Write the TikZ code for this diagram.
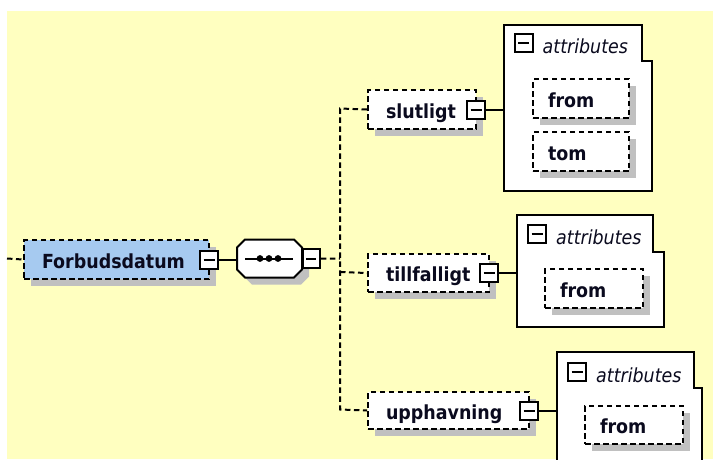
\documentclass[tikz,border=0pt]{standalone}
\usepackage{fontspec}
\setmainfont[FakeStretch=0.9]{DejaVu Sans}
\usetikzlibrary{shadows}
\definecolor{bgyellow}{RGB}{255,255,192}
\definecolor{elemblue}{RGB}{166,202,240}
\definecolor{shadowc}{RGB}{192,192,192}
\definecolor{textc}{RGB}{10,10,30}
\tikzset{
  conn/.style={line width=2pt, dash pattern=on 5.5pt off 3.5pt},
  link/.style={line width=2pt},
  elem/.style={draw, line width=2pt, dash pattern=on 5.5pt off 3.5pt, fill=white,
    anchor=north west, inner xsep=0pt, inner ysep=0pt, align=left,
    text height=17pt, text depth=0pt,
    font=\bfseries\fontsize{19.4pt}{23pt}\selectfont, text=textc,
    drop shadow={fill=shadowc, opacity=1, shadow xshift=7pt, shadow yshift=-7pt}},
  minusbtn/.style={draw, line width=2pt, fill=white, minimum width=18pt, minimum height=18pt,
    inner sep=0pt,
    path picture={\draw[line width=2pt] ([xshift=3.5pt]path picture bounding box.west) -- ([xshift=-3.5pt]path picture bounding box.east);}},
  region/.style={anchor=north west, inner sep=0pt, draw=none},
  attrbox/.style={draw, line width=2pt, fill=white},
  attrlabel/.style={font=\itshape\fontsize{19.4pt}{23pt}\selectfont, text=textc, inner sep=0pt, anchor=base west}
}
\begin{document}
\begin{tikzpicture}[x=1pt,y=-1pt]
\path[use as bounding box] (0,0) rectangle (713,459);
\clip (0,0) rectangle (713,459);
\fill[bgyellow] (7,11) rectangle (713,459);

% root element
\node[elem, fill=elemblue, minimum width=185pt, text width=185pt, minimum height=39pt] (forb) at (23,239) {\hspace*{18pt}Forbudsdatum};
\node[minusbtn] (fminus) at ([xshift=-1pt]forb.east) {};

% sequence compositor
\node[region, minimum width=65pt, minimum height=38pt] (seq) at (237,239.5) {};
\begin{scope}[shift={(7,7)}]
  \fill[shadowc] (245,239.5) -- (294,239.5) -- (302,247.5) -- (302,269.5) -- (294,277.5) -- (245,277.5) -- (237,269.5) -- (237,247.5) -- cycle;
\end{scope}
\draw[link, fill=white] (245,239.5) -- (294,239.5) -- (302,247.5) -- (302,269.5) -- (294,277.5) -- (245,277.5) -- (237,269.5) -- (237,247.5) -- cycle;
\draw[link] (245,258.5) -- (293,258.5);
\fill (260,258.5) circle (3.4pt) (269,258.5) circle (3.4pt) (278,258.5) circle (3.4pt);
\node[minusbtn, minimum width=17pt, minimum height=19pt] (qminus) at ([xshift=9pt]seq.east) {};

% child elements
\node[elem, minimum width=108pt, text width=108pt, minimum height=39pt] (slut) at (367,89) {\hspace*{18pt}slutligt};
\node[minusbtn] (sminus) at ([xshift=-1pt]slut.east) {};
\node[elem, minimum width=121pt, text width=121pt, minimum height=38pt] (till) at (367,253) {\hspace*{18pt}tillfalligt};
\node[minusbtn] (tminus) at ([xshift=-1pt]till.east) {};
\node[elem, minimum width=161pt, text width=161pt, minimum height=37pt] (upph) at (367,391) {\hspace*{18pt}upphavning};
\node[minusbtn] (uminus) at ([xshift=-1pt]upph.east) {};

% connectors
\coordinate (lstart) at (7,258.5);
\coordinate (jseq) at (340,258.5);
\coordinate (jtill) at (340,272);
\coordinate (jtop) at (340,108.5);
\coordinate (jbot) at (340,409.5);
\draw[conn] (lstart) -- (forb.west);
\draw[link] (fminus.east) -- (fminus.east -| seq.west);
\draw[conn] (qminus.east) -- (jseq);
\draw[conn] (slut.west) -- (jtop) -- (jbot) -- (upph.west);
\draw[conn] (jtill) -- (till.west);

% attributes of slutligt
\node[region, minimum width=148pt, minimum height=166pt] (a1) at (504,25) {};
\draw[link] (sminus.east) -- (sminus.east -| a1.west);
\draw[attrbox] (a1.north west) -- ([xshift=-10pt]a1.north east) |- ([yshift=-36pt]a1.north east) -- (a1.south east) -- (a1.south west) -- cycle;
\node[minusbtn] (ai1) at (523.5,43) {};
\node[attrlabel] (l1) at ([xshift=9pt]ai1.south east) {attributes};
\node[elem, minimum width=96pt, text width=96pt, minimum height=39pt] (from1) at (532,78) {\hspace*{15pt}from};
\node[elem, minimum width=96pt, text width=96pt, minimum height=39pt] (tom1) at (532,131) {\hspace*{15pt}tom};

% attributes of tillfalligt
\node[region, minimum width=147pt, minimum height=112pt] (a2) at (517,215) {};
\draw[link] (tminus.east) -- (tminus.east -| a2.west);
\draw[attrbox] (a2.north west) -- ([xshift=-11pt]a2.north east) |- ([yshift=-37pt]a2.north east) -- (a2.south east) -- (a2.south west) -- cycle;
\node[minusbtn] (ai2) at (537,234) {};
\node[attrlabel] (l2) at ([xshift=9pt]ai2.south east) {attributes};
\node[elem, minimum width=98pt, text width=98pt, minimum height=39pt] (from2) at (544,268) {\hspace*{15pt}from};

% attributes of upphavning
\node[region, minimum width=145pt, minimum height=130pt] (a3) at (557,352) {};
\draw[link] (uminus.east) -- (uminus.east -| a3.west);
\draw[attrbox] (a3.north west) -- ([xshift=-8pt]a3.north east) |- ([yshift=-36pt]a3.north east) -- (a3.south east) -- (a3.south west) -- cycle;
\node[minusbtn] (ai3) at (577,372) {};
\node[attrlabel] (l3) at ([xshift=9pt]ai3.south east) {attributes};
\node[elem, minimum width=98pt, text width=98pt, minimum height=38pt] (from3) at (584,405) {\hspace*{15pt}from};
\end{tikzpicture}
\end{document}
